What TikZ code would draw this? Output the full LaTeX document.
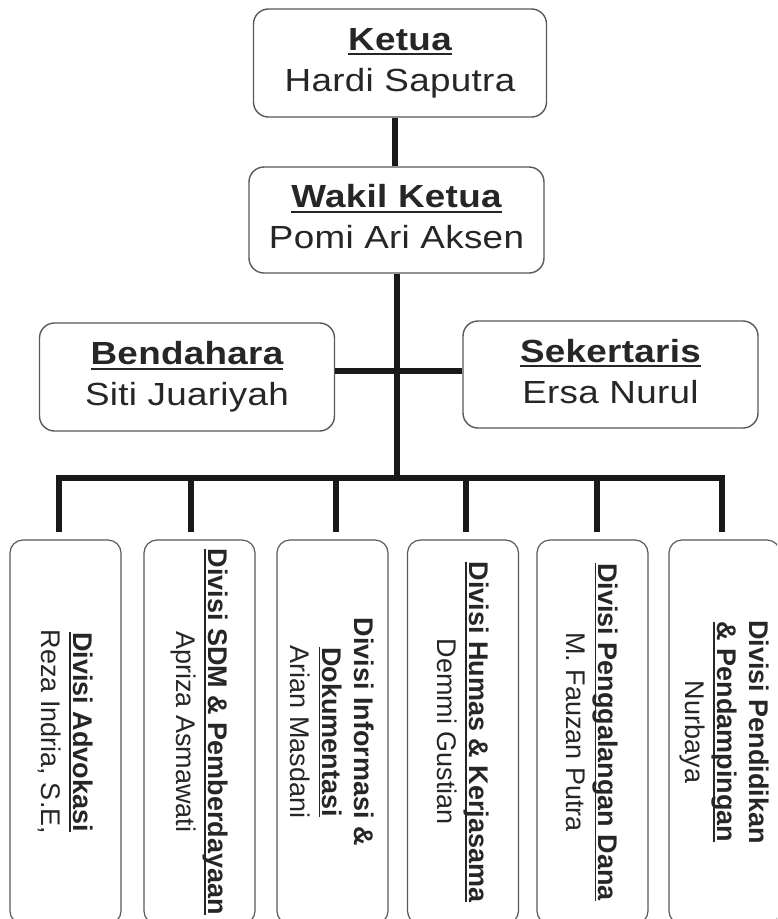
\documentclass[tikz,border=0pt]{standalone}
\usepackage{fontspec}
\setmainfont{Liberation Sans}
\newfontfamily\wideface[FakeStretch=1.15,LetterSpace=1]{Liberation Sans}
\newcommand\ulx[1]{\setbox0\hbox{#1}\leavevmode\rlap{\rule[-0.16em]{\wd0}{0.06em}}\box0}
\newcommand\nmx[1]{#1\vphantom{y}}
\begin{document}
\begin{tikzpicture}[x=1pt,y=-1pt,
  conn/.style={draw=black!90, line width=6pt, line join=miter},
  topbox/.style={draw=black!65, line width=1.4pt, rounded corners=15pt, fill=white,
    minimum width=295pt, minimum height=107pt, align=center, inner sep=0pt,
    text=black!85, font=\wideface\fontsize{32}{41}\selectfont},
  divbox/.style={draw=black!65, line width=1.2pt, rounded corners=13pt, fill=white,
    minimum width=384pt, minimum height=111pt, rotate=-90, align=center, inner sep=0pt,
    text=black!85, font=\fontsize{27}{32}\selectfont}]
\path[use as bounding box, clip] (0,0) rectangle (777,919);
\fill[white] (0,0) rectangle (777,919);

\node[topbox, minimum width=293pt, minimum height=108pt] (ketua) at (400,63) {\textbf{\ulx{Ketua}}\\\nmx{Hardi Saputra}};
\node[topbox, minimum height=106pt] (wakil) at (396.5,220) {\textbf{\ulx{Wakil Ketua}}\\\nmx{Pomi Ari Aksen}};
\node[topbox, minimum height=108pt] (bend) at (187,377) {\textbf{\ulx{Bendahara}}\\\nmx{Siti Juariyah}};
\node[topbox] (sek) at (610.5,374.5) {\textbf{\ulx{Sekertaris}}\\\nmx{Ersa Nurul}};

\node[divbox] (d1) at (65.5,732) {\textbf{\ulx{Divisi Advokasi}}\\Reza Indria, S.E,};
\node[divbox] (d2) at (199.5,732) {\textbf{\ulx{Divisi SDM \& Pemberdayaan}}\\Apriza Asmawati};
\node[divbox] (d3) at (332.5,732) {\textbf{Divisi Informasi \&}\\\textbf{\ulx{Dokumentasi}}\\Arian Masdani};
\node[divbox] (d4) at (463,732) {\textbf{\ulx{Divisi Humas \& Kerjasama}}\\Demmi Gustian};
\node[divbox] (d5) at (592.5,732) {\textbf{\ulx{Divisi Penggalangan Dana}}\\M. Fauzan Putra};
\node[divbox] (d6) at (724.5,732) {\textbf{Divisi Pendidikan}\\\textbf{\ulx{\& Pendampingan}}\\Nurbaya};

\coordinate (mid) at (400,371);
\coordinate (bus) at (397,478);
\coordinate (b1) at (59,478);
\coordinate (b2) at (190.5,478);
\coordinate (b3) at (335.5,478);
\coordinate (b4) at (465.5,478);
\coordinate (b5) at (597,478);
\coordinate (b6) at (722,478);
\coordinate (e1) at ([yshift=7pt]d1.west);
\coordinate (e2) at ([yshift=7pt]d2.west);
\coordinate (e3) at ([yshift=7pt]d3.west);
\coordinate (e4) at ([yshift=7pt]d4.west);
\coordinate (e5) at ([yshift=7pt]d5.west);
\coordinate (e6) at ([yshift=7pt]d6.west);

\draw[conn] ([xshift=-5pt]ketua.south) -- ([xshift=-5pt]ketua.south |- wakil.north);
\draw[conn] (wakil.south) -- (wakil.south |- bus);
\draw[conn] (bend.east |- mid) -- (sek.west |- mid);
\draw[conn] (b1 |- e1) -- (b1) -- (b6) -- (b6 |- e6);
\draw[conn] (b2) -- (b2 |- e2);
\draw[conn] (b3) -- (b3 |- e3);
\draw[conn] (b4) -- (b4 |- e4);
\draw[conn] (b5) -- (b5 |- e5);
\end{tikzpicture}
\end{document}
